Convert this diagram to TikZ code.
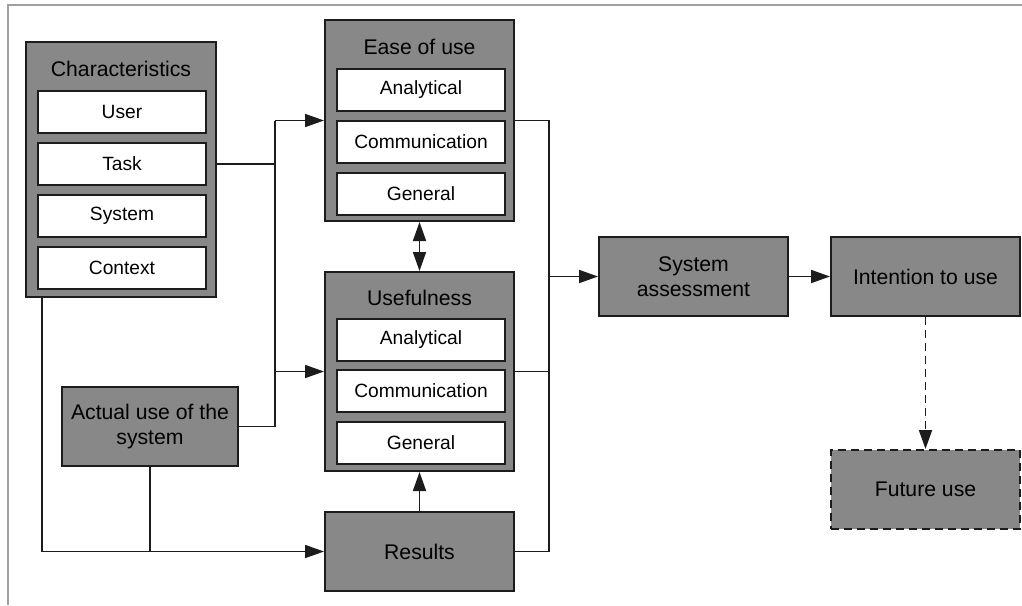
\documentclass[tikz,border=0pt]{standalone}
\usepackage{fontspec}
\setmainfont{Liberation Sans}
\usetikzlibrary{arrows.meta}
\definecolor{boxgray}{RGB}{136,136,136}
\definecolor{edge}{RGB}{28,28,28}
\definecolor{framegray}{RGB}{160,160,160}
\begin{document}
\begin{tikzpicture}[x=0.5pt,y=-0.5pt,
  outer/.style={draw=edge,line width=1pt,fill=boxgray,rectangle,inner sep=0pt,
    minimum width=#1},
  outer/.default=94.5pt,
  block/.style={draw=edge,line width=1pt,fill=boxgray,rectangle,inner sep=0pt,
    minimum width=94.5pt,minimum height=39.5pt,align=center,
    font=\fontsize{10.6}{12.8}\selectfont},
  item/.style={draw=edge,line width=1pt,fill=white,rectangle,inner sep=0pt,
    minimum width=84pt,minimum height=21pt,font=\fontsize{9.6}{11}\selectfont},
  title/.style={inner sep=0pt,font=\fontsize{10.6}{12.8}\selectfont},
  dashline/.style={dash pattern=on 4pt off 2.5pt},
  link/.style={draw=edge,line width=0.9pt},
  tip/.style={-{Triangle[length=9.5pt,width=6.5pt]}},
  both/.style={{Triangle[length=9.5pt,width=6.5pt]}-{Triangle[length=9.5pt,width=6.5pt]}}]
\useasboundingbox (0,0) rectangle (1022,605);

% frame lines
\draw[framegray,line width=0.6pt] (8,605) -- (8,5) -- (1022,5);

% Characteristics group
\node[outer=95pt,minimum height=127.5pt] (chars) at (121,169.5) {};
\node[title] (charsT) at (121,69) {Characteristics};
\node[item] (user) at (122,111.5) {User};
\node[item] (task) at (122,164) {Task};
\node[item] (system) at (122,216) {System};
\node[item] (context) at (122,268) {Context};

% Ease of use group
\node[outer,minimum height=100.5pt] (ease) at (419.5,120.5) {};
\node[title] (easeT) at (419.5,47) {Ease of use};
\node[item] (eA) at (421,90) {Analytical};
\node[item] (eC) at (421,142) {Communication};
\node[item] (eG) at (421,194) {General};

% Usefulness group
\node[outer,minimum height=99.5pt] (useful) at (419.5,371.5) {};
\node[title] (usefulT) at (419.5,298) {Usefulness};
\node[item] (uA) at (421,339.5) {Analytical};
\node[item] (uC) at (421,391) {Communication};
\node[item] (uG) at (421,443) {General};

% Single blocks
\node[block,minimum width=88pt] (actual) at (150,426.5) {Actual use of the\\system};
\node[block] (results) at (419.5,551.5) {Results};
\node[block] (sysa) at (693.5,276.5) {System\\assessment};
\node[block] (intent) at (925.5,276.5) {Intention to use};
\node[block,dashline] (future) at (925.5,489.5) {Future use};

% junction columns
\coordinate (jx) at (42,0);
\coordinate (jl) at (275,0);
\coordinate (jr) at (549,0);

% left side inputs
\draw[link] (chars.east |- task) -- (jl |- task);
\draw[link] (jl |- ease) -- (jl |- actual);
\draw[link] (actual.east) -- (jl |- actual);
\draw[link,tip] (jl |- ease) -- (ease.west);
\draw[link,tip] (jl |- useful) -- (useful.west);

% bottom route to Results
\draw[link] (jx |- chars.south) -- (jx |- results);
\draw[link] (actual.south) -- (actual.south |- results);
\draw[link,tip] (jx |- results) -- (results.west);

% vertical links
\draw[link,tip] (results.north) -- (useful.south);
\draw[link,both] (ease.south) -- (useful.north);

% right side collector
\draw[link] (ease.east) -- (jr |- ease) -- (jr |- results) -- (results.east);
\draw[link] (useful.east) -- (jr |- useful);
\draw[link,tip] (jr |- sysa) -- (sysa.west);

% outcome chain
\draw[link,tip] (sysa.east) -- (intent.west);
\draw[link,tip,dashline] (intent.south) -- (future.north);
\end{tikzpicture}
\end{document}
